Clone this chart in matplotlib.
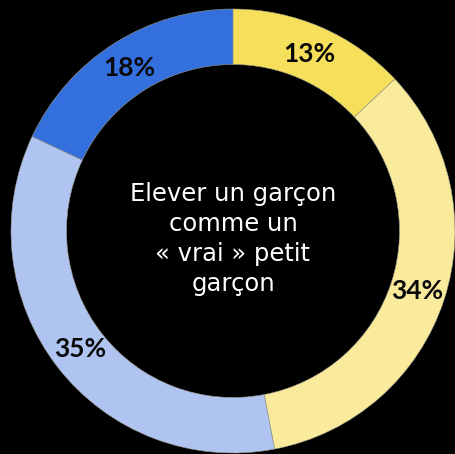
import matplotlib
matplotlib.use("Agg")
import matplotlib.pyplot as plt

labels = ["13%", "34%", "35%", "18%"]
values = [13, 34, 35, 18]
colors = ["#F6DF5A", "#F9EA9C", "#AFC4F1", "#346FDE"]
center_text = "Elever un garçon\ncomme un\n« vrai » petit\ngarçon"

W, H = 455, 454
cx, cy_top, R = 233, 231, 222
fig = plt.figure(figsize=(W / 100, H / 100), dpi=100, facecolor="black")
ax = fig.add_axes([0, 0, 1, 1])
ax.set_facecolor("black")

wedges, texts = ax.pie(values, colors=colors, startangle=90, counterclock=False,
                       radius=1.0, labels=labels, labeldistance=0.87,
                       wedgeprops=dict(width=0.25, edgecolor="#9a9a8a", linewidth=0.4),
                       textprops=dict(color="#0a0a0a", fontsize=19, fontweight="bold",
                                      family=["Lato", "DejaVu Sans"]))
for t in texts:
    t.set_ha("center")
    t.set_va("center")

ax.text(0, -0.035, center_text, ha="center", va="center", color="white",
        fontsize=17.5, family=["DejaVu Sans"], fontweight="normal", linespacing=1.32)

ax.set_xlim(-cx / R, (W - cx) / R)
ax.set_ylim(-(H - cy_top) / R, cy_top / R)
ax.set_aspect("equal", adjustable="box")
ax.axis("off")

fig.savefig("out.png", dpi=100, facecolor="black")
